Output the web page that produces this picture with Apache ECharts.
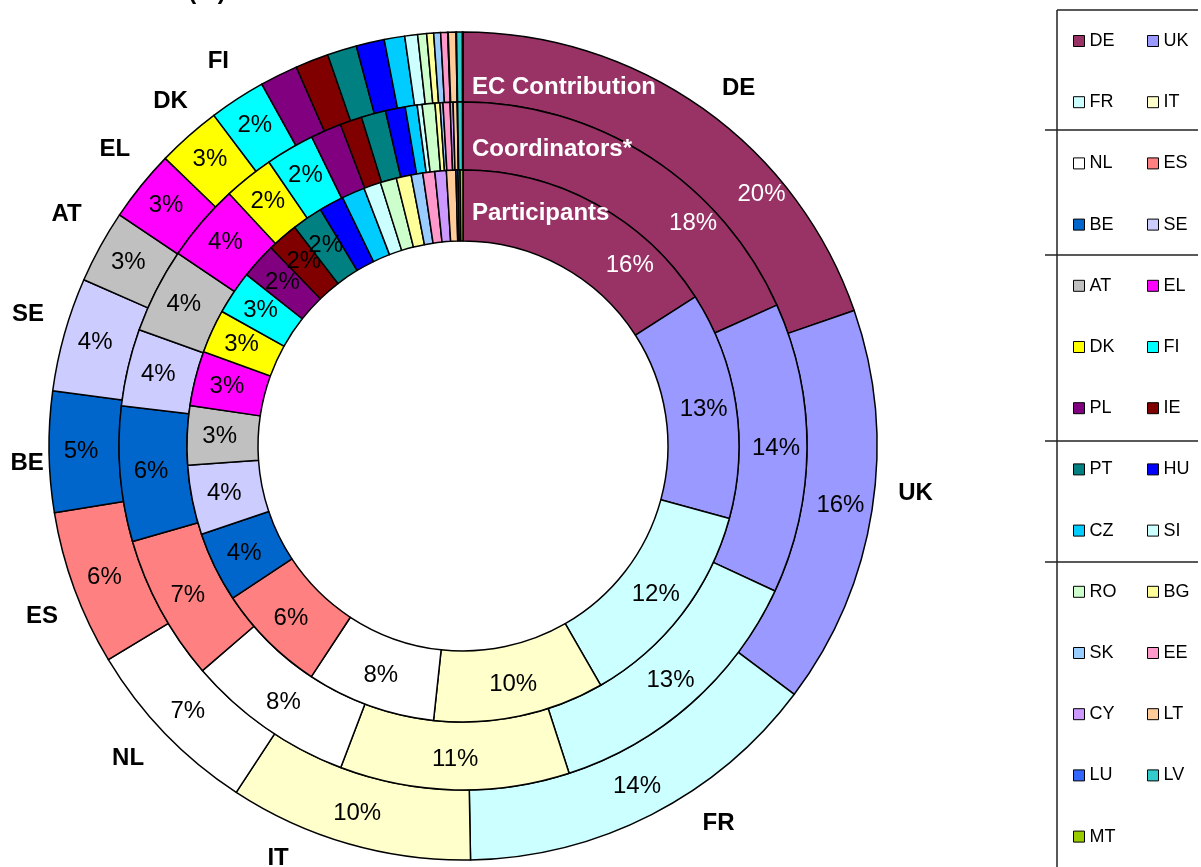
<!DOCTYPE html>
<html lang="en">
<head>
<meta charset="UTF-8">
<title>chart</title>
<style>html,body{margin:0;padding:0;background:#fff;}</style>
</head>
<body>
<div id="container" style="width:1201px;height:867px"></div>
<script src="https://cdn.jsdelivr.net/npm/echarts@6/dist/echarts.min.js"></script>
<script>
    // countries, clockwise from 12 o'clock
    var countries = ['DE', 'UK', 'FR', 'IT', 'NL', 'ES', 'BE', 'SE', 'AT', 'EL', 'DK', 'FI', 'PL', 'IE',
        'PT', 'HU', 'CZ', 'SI', 'RO', 'BG', 'SK', 'EE', 'CY', 'LT', 'LU', 'LV', 'MT'];
    var colors = ['#993366', '#9999ff', '#ccffff', '#ffffcc', '#ffffff', '#ff8080', '#0066cc', '#ccccff', '#c0c0c0',
        '#ff00ff', '#ffff00', '#00ffff', '#800080', '#800000', '#008080', '#0000ff', '#00ccff', '#ccffff',
        '#ccffcc', '#ffff99', '#99ccff', '#ff99cc', '#cc99ff', '#ffcc99', '#3366ff', '#33cccc', '#99cc00'];

    // shares (%)
    var ecContribution = [19.7, 15.55, 14.48, 9.52, 7.15, 6.05, 4.71, 4.45, 2.85, 2.8, 2.5, 2.2, 1.48, 1.3,
        1.15, 1.1, 0.8, 0.5, 0.35, 0.27, 0.27, 0.27, 0.02, 0.3, 0.02, 0.23, 0.02];
    var coordinators = [18.3, 13.65, 13.09, 10.78, 7.9, 6.85, 6.35, 3.62, 3.98, 3.65, 2.35, 2.3, 1.45, 1.03,
        1.15, 0.93, 0.56, 0.23, 0.6, 0.23, 0.14, 0.33, 0.14, 0.19, 0.02, 0.23, 0.02];
    var participants = [15.9, 13.3, 12.45, 10.0, 7.55, 6.45, 4.1, 4.07, 3.45, 3.2, 2.55, 2.55, 2.1, 1.8,
        1.8, 1.45, 1.35, 1.0, 0.95, 0.87, 0.68, 0.7, 0.67, 0.55, 0.12, 0.12, 0.17];

    var legendCol1 = ['DE', 'FR', 'NL', 'BE', 'AT', 'DK', 'PL', 'PT', 'CZ', 'RO', 'SK', 'CY', 'LU', 'MT'];
    var legendCol2 = ['UK', 'IT', 'ES', 'SE', 'EL', 'FI', 'IE', 'HU', 'SI', 'BG', 'EE', 'LT', 'LV'];

    var font = 'Arial, "Liberation Sans", sans-serif';
    var center = [463, 446];
    var lineColor = '#222';
    // nudges for the hand placed country names (DE .. FI)
    var nameShift = [[10, 15], [0, -23], [47, -30], [-58, -28], [-5, -5], [9, 12], [22, 11], [6, -8],
        [5, -11], [8, -9], [11, -2], [5, -1]];

    function ring(name, values, radius, deShift) {
        return {
            type: 'pie',
            name: name,
            center: center,
            radius: radius,
            startAngle: 90,
            clockwise: true,
            avoidLabelOverlap: false,
            silent: true,
            itemStyle: {borderColor: '#000', borderWidth: 1.5},
            label: {
                show: true,
                position: 'inside',
                rotate: 0,
                fontFamily: font,
                fontSize: 24,
                color: '#000',
                formatter: function (p) {
                    return Math.round(p.value) + '%';
                }
            },
            labelLine: {show: false},
            // DE label is pushed aside to leave room for the ring titles
            labelLayout: function (p) {
                if (p.dataIndex === 0) {
                    return {dx: deShift[0], dy: deShift[1]};
                }
            },
            data: countries.map(function (c, i) {
                return {
                    name: c,
                    value: values[i],
                    itemStyle: {color: colors[i]},
                    label: {show: Math.round(values[i]) >= 2, color: i === 0 ? '#fff' : '#000'}
                };
            })
        };
    }

    function legendCol(left, names) {
        return {
            orient: 'vertical',
            left: left,
            top: 32,
            padding: 0,
            itemWidth: 11,
            itemHeight: 11,
            itemGap: 43.2,
            icon: 'rect',
            selectedMode: false,
            itemStyle: {borderColor: '#000', borderWidth: 1},
            textStyle: {fontFamily: font, fontSize: 18, color: '#000'},
            data: names
        };
    }

    function hLine(x1, y1, x2, y2) {
        return {type: 'line', shape: {x1: x1, y1: y1, x2: x2, y2: y2}, style: {stroke: lineColor, lineWidth: 1.5}};
    }

    function ringTitle(text, y) {
        return {
            type: 'text', x: 472, y: y, z: 100,
            style: {text: text, fill: '#fff', font: 'bold 24px ' + font, textVerticalAlign: 'middle'}
        };
    }

    var dom = document.getElementById('container');
    var myChart = echarts.init(dom);
    myChart.setOption({
        animation: false,
        legend: [legendCol(1073, legendCol1), legendCol(1147, legendCol2)],
        graphic: [
            hLine(1057, 10, 1198, 10),
            hLine(1057, 10, 1057, 867),
            hLine(1045, 130, 1198, 130),
            hLine(1045, 255, 1198, 255),
            hLine(1045, 441, 1198, 441),
            hLine(1045, 562, 1198, 562),
            ringTitle('EC Contribution', 87),
            ringTitle('Coordinators*', 149),
            ringTitle('Participants', 213),
            {
                type: 'text', x: 207, y: 4, z: 100,
                style: {text: '(%)', fill: '#000', font: 'bold 24px ' + font, textAlign: 'center', textVerticalAlign: 'bottom'}
            }
        ],
        series: [
            ring('EC Contribution', ecContribution, [344, 414], [77, 60]),
            ring('Coordinators*', coordinators, [276, 344], [60, 40]),
            ring('Participants', participants, [205, 276], [50, 33]),
            {
                // country names around the outer ring
                type: 'pie',
                name: 'names',
                center: center,
                radius: [440, 470],
                startAngle: 90,
                silent: true,
                legendHoverLink: false,
                avoidLabelOverlap: false,
                itemStyle: {color: 'rgba(0,0,0,0)', borderWidth: 0},
                label: {
                    show: true, position: 'inside', rotate: 0, formatter: '{b}',
                    fontFamily: font, fontSize: 24, fontWeight: 'bold', color: '#000'
                },
                labelLine: {show: false},
                labelLayout: function (p) {
                    var s = nameShift[p.dataIndex];
                    if (s) {
                        return {dx: s[0], dy: s[1]};
                    }
                },
                data: countries.map(function (c, i) {
                    return {name: c, value: ecContribution[i], label: {show: Math.round(ecContribution[i]) >= 2}};
                })
            }
        ]
    });
</script>
</body>
</html>
